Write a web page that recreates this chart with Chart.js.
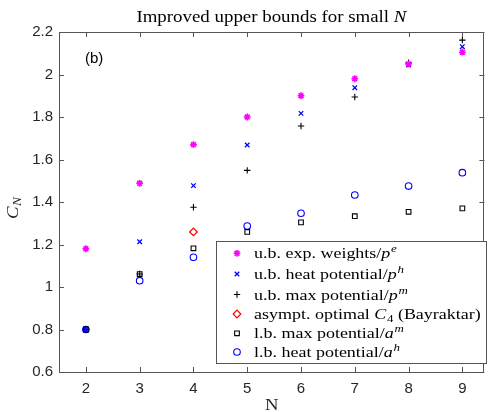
<!DOCTYPE html>
<html>
<head>
<meta charset="utf-8">
<script src="https://cdn.jsdelivr.net/npm/chart.js@4/dist/chart.umd.min.js"></script>
<style>
html,body{margin:0;padding:0;background:#fff;}
#wrap{width:490px;height:412px;position:relative;}
</style>
</head>
<body>
<div id="wrap"><canvas id="c" width="490" height="412"></canvas></div>
<script>
// ---- data ----
const N = [2, 3, 4, 5, 6, 7, 8, 9];
const ubExpWeights = [1.18, 1.488, 1.67, 1.80, 1.90, 1.98, 2.05, 2.105];
const ubHeatPot = [0.80, 1.213, 1.477, 1.668, 1.817, 1.938, 2.045, 2.131];
const ubMaxPot = [0.80, 1.061, 1.375, 1.549, 1.758, 1.894, 2.055, 2.162];
const bayraktarN = [4];
const bayraktarC4 = [1.259];
const lbMaxPot = [0.80, 1.061, 1.182, 1.259, 1.304, 1.333, 1.354, 1.37];
const lbHeatPot = [0.80, 1.03, 1.14, 1.287, 1.347, 1.433, 1.475, 1.538];
const xTicks = [2, 3, 4, 5, 6, 7, 8, 9];
const yTicks = [0.6, 0.8, 1.0, 1.2, 1.4, 1.6, 1.8, 2.0, 2.2];

const pts = (xs, ys) => xs.map((x, i) => ({x: x, y: ys[i]}));
const SANS = '"Liberation Sans", Arial, sans-serif';
const SERIF = '"Liberation Serif", "Times New Roman", serif';
const AX = '#555555';
const TXT = '#262626';

const datasets = [
  {label:'ube', data: pts(N, ubExpWeights), pointStyle:'star', pointRadius:3.4, borderColor:'#ff00ff', backgroundColor:'#ff00ff', borderWidth:1.6,
   legend:[{t:'u.b. exp. weights/'},{t:'p',i:true},{t:'e',i:true,sup:true}]},
  {label:'ubh', data: pts(N, ubHeatPot), pointStyle:'crossRot', pointRadius:3.2, borderColor:'#0000ff', backgroundColor:'#0000ff', borderWidth:1.3,
   legend:[{t:'u.b. heat potential/'},{t:'p',i:true},{t:'h',i:true,sup:true}]},
  {label:'ubm', data: pts(N, ubMaxPot), pointStyle:'cross', pointRadius:3.2, borderColor:'#000000', backgroundColor:'#000000', borderWidth:1.1,
   legend:[{t:'u.b. max potential/'},{t:'p',i:true},{t:'m',i:true,sup:true}]},
  {label:'bay', data: pts(bayraktarN, bayraktarC4), pointStyle:'rectRot', pointRadius:3.8, borderColor:'#ff0000', backgroundColor:'rgba(0,0,0,0)', borderWidth:1.2,
   legend:[{t:'asympt. optimal '},{t:'C',i:true},{t:'4',sub:true},{t:' (Bayraktar)'}]},
  {label:'lbm', data: pts(N, lbMaxPot), pointStyle:'rect', pointRadius:3.3, borderColor:'#000000', backgroundColor:'rgba(0,0,0,0)', borderWidth:1.1,
   legend:[{t:'l.b. max potential/'},{t:'a',i:true},{t:'m',i:true,sup:true}]},
  {label:'lbh', data: pts(N, lbHeatPot), pointStyle:'circle', pointRadius:3.3, borderColor:'#0000ff', backgroundColor:'rgba(0,0,0,0)', borderWidth:1.1,
   legend:[{t:'l.b. heat potential/'},{t:'a',i:true},{t:'h',i:true,sup:true}]}
];

// draws mixed roman/italic/sup/sub text; hs = horizontal stretch (Computer Modern is wider than Times)
function drawRich(ctx, parts, x, y, size, align, hs) {
  hs = hs || 1;
  const fontFor = p => {
    const s = (p.sup || p.sub) ? size * 0.72 : size;
    return (p.i ? 'italic ' : '') + s + 'px ' + SERIF;
  };
  const adv = p => { ctx.font = fontFor(p); return ctx.measureText(p.t).width + (p.i && !p.sup && !p.sub ? 0.5 : 0); };
  let w = 0;
  parts.forEach(p => { w += adv(p); });
  ctx.save();
  ctx.translate(x, y);
  ctx.scale(hs, 1);
  let cx = align === 'center' ? -w / 2 : 0;
  ctx.textAlign = 'left';
  ctx.textBaseline = 'alphabetic';
  parts.forEach(p => {
    ctx.font = fontFor(p);
    let dy = 0;
    if (p.sup) dy = -size * 0.38;
    if (p.sub) dy = size * 0.2;
    ctx.fillText(p.t, cx, dy);
    cx += adv(p);
  });
  ctx.restore();
  return w * hs;
}

const decor = {
  id: 'decor',
  afterDraw(chart) {
    const ctx = chart.ctx;
    const a = chart.chartArea;
    const xs = chart.scales.x, ys = chart.scales.y;
    ctx.save();
    // box
    ctx.strokeStyle = AX;
    ctx.lineWidth = 1;
    ctx.strokeRect(Math.round(a.left) + 0.5, Math.round(a.top) + 0.5, Math.round(a.right - a.left) - 1, Math.round(a.bottom - a.top));
    // inward ticks
    const tl = 5;
    ctx.beginPath();
    xTicks.forEach(v => {
      const px = Math.round(xs.getPixelForValue(v)) + 0.5;
      ctx.moveTo(px, a.bottom); ctx.lineTo(px, a.bottom - tl);
      ctx.moveTo(px, a.top); ctx.lineTo(px, a.top + tl);
    });
    yTicks.forEach(v => {
      const py = Math.round(ys.getPixelForValue(v)) + 0.5;
      ctx.moveTo(a.left, py); ctx.lineTo(a.left + tl, py);
      ctx.moveTo(a.right, py); ctx.lineTo(a.right - tl, py);
    });
    ctx.stroke();

    // title
    ctx.fillStyle = '#000';
    drawRich(ctx, [{t:'Improved upper bounds for small '},{t:'N',i:true}], (a.left + a.right) / 2, 22, 16, 'center', 1.18);
    // x label
    ctx.fillStyle = TXT;
    drawRich(ctx, [{t:'N'}], (a.left + a.right) / 2, 410, 17, 'center', 1.1);
    // y label
    ctx.save();
    ctx.translate(18, 208);
    ctx.rotate(-Math.PI / 2);
    drawRich(ctx, [{t:'C',i:true},{t:'N',i:true,sub:true}], 0, 0, 17, 'center', 1.1);
    ctx.restore();
    // (b)
    ctx.font = '15px ' + SANS;
    ctx.fillStyle = '#000';
    ctx.textAlign = 'left'; ctx.textBaseline = 'middle';
    ctx.fillText('(b)', 85, 59);

    // legend
    const L = {x: 216.5, y: 241.5, w: 270, h: 122};
    ctx.fillStyle = '#fff';
    ctx.fillRect(L.x, L.y, L.w, L.h);
    ctx.strokeStyle = AX;
    ctx.lineWidth = 1;
    ctx.strokeRect(L.x, L.y, L.w, L.h);
    const rows = [253.3, 274, 294.5, 314, 333.3, 352];
    chart.data.datasets.forEach((ds, i) => {
      const y = rows[i];
      ctx.save();
      ctx.strokeStyle = ds.borderColor;
      ctx.fillStyle = ds.backgroundColor;
      ctx.lineWidth = ds.borderWidth;
      Chart.helpers.drawPoint(ctx, {
        pointStyle: ds.pointStyle, radius: ds.pointRadius, rotation: 0, borderWidth: ds.borderWidth
      }, 237, y);
      ctx.restore();
      ctx.fillStyle = '#000';
      drawRich(ctx, ds.legend, 254, y + 5, 15.5, 'left', 1.16);
    });
    ctx.restore();
  }
};

new Chart(document.getElementById('c'), {
  type: 'scatter',
  data: { datasets: datasets },
  options: {
    responsive: false,
    animation: false,
    layout: { padding: { top: 32, right: 1, left: 0, bottom: 0 } },
    plugins: { legend: { display: false }, tooltip: { enabled: false }, title: { display: false } },
    scales: {
      x: {
        type: 'linear', min: 1.5, max: 9.41,
        afterBuildTicks: s => { s.ticks = xTicks.map(v => ({value: v})); },
        afterFit: s => { s.height = 40; },
        grid: { display: false, drawTicks: false },
        border: { display: false },
        ticks: { padding: 8, color: TXT, font: { family: SANS, size: 15 }, callback: v => String(v) }
      },
      y: {
        type: 'linear', min: 0.6, max: 2.2,
        afterBuildTicks: s => { s.ticks = yTicks.map(v => ({value: v})); },
        afterFit: s => { s.width = 59; },
        grid: { display: false, drawTicks: false },
        border: { display: false },
        ticks: { padding: 6, color: TXT, font: { family: SANS, size: 15 }, callback: v => String(parseFloat(Number(v).toFixed(1))) }
      }
    }
  },
  plugins: [decor]
});
</script>
</body>
</html>
